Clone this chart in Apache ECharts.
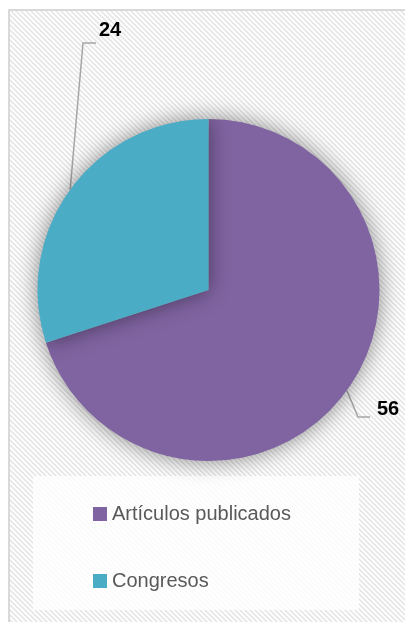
<!DOCTYPE html>
<html>
<head>
<meta charset="utf-8">
<script src="https://cdn.jsdelivr.net/npm/echarts@6/dist/echarts.min.js"></script>
<style>
  html, body { margin: 0; padding: 0; background: #fff; }
  #chart { width: 405px; height: 622px; }
</style>
</head>
<body>
<div id="chart"></div>
<script>
// data
const categories = ['Artículos publicados', 'Congresos']
const values = [56, 24]
const colors = ['#8064a2', '#4bacc6']

// diagonal hatch like the Excel chart area
function hatch() {
  const c = document.createElement('canvas')
  c.width = 5
  c.height = 5
  const ctx = c.getContext('2d')
  ctx.fillStyle = '#ffffff'
  ctx.fillRect(0, 0, 5, 5)
  ctx.strokeStyle = '#e6e6e6'
  ctx.lineWidth = 1.6
  ctx.beginPath()
  ctx.moveTo(-1, -1); ctx.lineTo(6, 6)
  ctx.moveTo(-1, 4); ctx.lineTo(1, 6)
  ctx.moveTo(4, -1); ctx.lineTo(6, 1)
  ctx.stroke()
  return c
}

const chart = echarts.init(document.getElementById('chart'))
const font = 'Liberation Sans, Arial, sans-serif'

chart.setOption({
  backgroundColor: '#fff',
  animation: false,
  graphic: [
    {
      type: 'rect',
      z: -10,
      shape: { x: 9, y: 10, width: 410, height: 620 },
      style: { fill: { image: hatch(), repeat: 'repeat' }, stroke: '#d9d9d9', lineWidth: 2 }
    },
    {
      type: 'rect',
      z: -5,
      shape: { x: 33, y: 476, width: 326, height: 134 },
      style: { fill: 'rgba(255,255,255,0.8)' }
    }
  ],
  legend: {
    orient: 'vertical',
    left: 88,
    top: 497,
    itemWidth: 14,
    itemHeight: 14,
    itemGap: 43,
    icon: 'rect',
    textStyle: { fontFamily: font, fontSize: 20, color: '#595959', lineHeight: 24 },
    data: categories
  },
  series: [
    {
      type: 'pie',
      center: [208.5, 290],
      radius: 171,
      startAngle: 90,
      clockwise: true,
      color: colors,
      itemStyle: { shadowBlur: 22, shadowColor: 'rgba(0,0,0,0.45)' },
      label: {
        show: true,
        position: 'outside',
        formatter: '{c}',
        overflow: 'none',
        fontFamily: font,
        fontSize: 20,
        fontWeight: 'bold',
        color: '#000'
      },
      labelLine: { show: true, lineStyle: { color: '#a6a6a6', width: 1.5 } },
      labelLayout: function (params) {
        const start = params.labelLinePoints[0]
        if (params.dataIndex === 0) {
          return {
            x: 377, y: 409, align: 'left', verticalAlign: 'middle',
            width: 40,
            labelLinePoints: [start, [358, 417], [370, 417]]
          }
        }
        return {
          x: 99, y: 30, align: 'left', verticalAlign: 'middle',
          width: 40,
          labelLinePoints: [start, [83, 43], [96, 43]]
        }
      },
      emphasis: { disabled: true },
      data: categories.map((name, i) => ({ name: name, value: values[i] }))
    }
  ]
})
</script>
</body>
</html>
